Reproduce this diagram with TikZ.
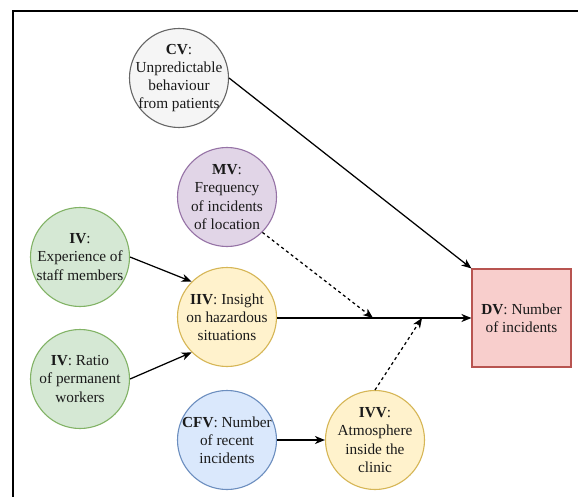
\documentclass[tikz,border=0pt]{standalone}
\usepackage{fontspec}
\setmainfont{Liberation Serif}
\usetikzlibrary{arrows.meta}

\definecolor{greyfill}{HTML}{F5F5F5}\definecolor{greyline}{HTML}{666666}
\definecolor{purplefill}{HTML}{E1D5E7}\definecolor{purpleline}{HTML}{9673A6}
\definecolor{greenfill}{HTML}{D5E8D4}\definecolor{greenline}{HTML}{82B366}
\definecolor{yellowfill}{HTML}{FFF2CC}\definecolor{yellowline}{HTML}{D6B656}
\definecolor{bluefill}{HTML}{DAE8FC}\definecolor{blueline}{HTML}{6C8EBF}
\definecolor{redfill}{HTML}{F8CECC}\definecolor{redline}{HTML}{B85450}
\definecolor{inktext}{HTML}{1A1A1A}

\begin{document}
\begin{tikzpicture}[x=1pt,y=-1pt,
  varcircle/.style={circle, draw, line width=1.1pt, minimum size=99pt, inner sep=0pt},
  greyvar/.style={varcircle, fill=greyfill, draw=greyline},
  purplevar/.style={varcircle, fill=purplefill, draw=purpleline},
  greenvar/.style={varcircle, fill=greenfill, draw=greenline},
  yellowvar/.style={varcircle, fill=yellowfill, draw=yellowline},
  bluevar/.style={varcircle, fill=bluefill, draw=blueline},
  depbox/.style={rectangle, draw=redline, fill=redfill, line width=1.1pt,
    minimum width=99pt, minimum height=98pt, inner sep=0pt},
  caption/.style={align=center, inner sep=0pt, text=inktext,
    font=\fontsize{15.3}{18.2}\selectfont},
  link/.style={line width=1.25pt, -{Stealth[length=10pt,width=8pt,inset=3pt]}},
  modlink/.style={link, dash pattern=on 3pt off 3pt}]

  % canvas and frame
  \useasboundingbox (0,0) rectangle (578,497);
  \fill[white] (0,0) rectangle (578,497);
  \draw[line width=2pt] (12.5,497) -- (12.5,11) -- (578,11);

  % variables
  \node[greyvar]   (cv)  at (179,78)  {};
  \node[purplevar] (mv)  at (227,197) {};
  \node[greenvar]  (iva) at (80,257)  {};
  \node[greenvar]  (ivb) at (80,379)  {};
  \node[yellowvar] (iiv) at (227,317) {};
  \node[bluevar]   (cfv) at (227,440) {};
  \node[yellowvar] (ivv) at (375,440) {};
  \node[depbox]    (dv)  at (521.5,318) {};

  \node[caption] (cvt)  at (cv)  {\textbf{CV}:\\Unpredictable\\behaviour\\from patients};
  \node[caption] (mvt)  at (mv)  {\textbf{MV}:\\Frequency\\of incidents\\of location};
  \node[caption] (ivat) at (iva) {\textbf{IV}:\\Experience of\\staff members};
  \node[caption] (ivbt) at (ivb) {\textbf{IV}: Ratio\\of permanent\\workers};
  \node[caption] (iivt) at (iiv) {\textbf{IIV}: Insight\\on hazardous\\situations};
  \node[caption] (cfvt) at (cfv) {\textbf{CFV}: Number\\of recent\\incidents};
  \node[caption] (ivvt) at (ivv) {\textbf{IVV}:\\Atmosphere\\inside the\\clinic};
  \node[caption] (dvt)  at (dv)  {\textbf{DV}: Number\\of incidents};

  % points where the moderating arrows meet the main path
  \coordinate (mvhit)  at (373,318);
  \coordinate (ivvhit) at (422,318);

  % connectors
  \draw[link] (cv.east) -- (dv.north west);
  \draw[link] (iiv.east |- dv.west) -- (dv.west);
  \draw[link] (iva.east) -- (iiv.north west);
  \draw[link] (ivb.east) -- (iiv.south west);
  \draw[link] (cfv.east) -- (ivv.west);
  \draw[modlink] (mv.south east) -- (mvhit);
  \draw[modlink] (ivv.north) -- (ivvhit);
\end{tikzpicture}
\end{document}
